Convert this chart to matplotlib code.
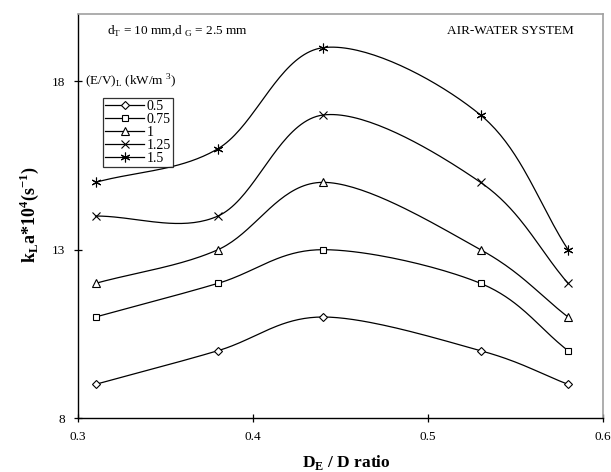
import numpy as np
import matplotlib
matplotlib.use('Agg')
import matplotlib.pyplot as plt
from matplotlib.lines import Line2D

plt.rcParams['font.family'] = 'Liberation Serif'
plt.rcParams['mathtext.fontset'] = 'custom'
plt.rcParams['mathtext.rm'] = 'Liberation Serif'
plt.rcParams['mathtext.bf'] = 'Liberation Serif:bold'

# data
de_d_ratio = [0.31, 0.38, 0.44, 0.53, 0.58]
power_labels = ['0.5', '0.75', '1', '1.25', '1.5']
kla_05 = [9, 10, 11, 10, 9]
kla_075 = [11, 12, 13, 12, 10]
kla_1 = [12, 13, 15, 13, 11]
kla_125 = [14, 14, 17, 15, 12]
kla_15 = [15, 16, 19, 17, 13]
markers = ['D', 's', '^', 'x', (6, 2, 0)]
marker_sizes = [4, 5, 5.5, 6, 7]


def smoothCurve(X, Y, N_Seg=40):
    # Catmull-Rom style smoothing like Excel's "smoothed line"
    x = np.asarray(X, float)
    y = np.asarray(Y, float)
    px = np.concatenate([[2 * x[0] - x[1]], x, [2 * x[-1] - x[-2]]])
    py = np.concatenate([[2 * y[0] - y[1]], y, [2 * y[-1] - y[-2]]])
    xs, ys = [], []
    t = np.linspace(0, 1, N_Seg)
    for i in range(1, len(px) - 2):
        for p, out in ((px, xs), (py, ys)):
            p0, p1, p2, p3 = p[i - 1], p[i], p[i + 1], p[i + 2]
            m1 = (p2 - p0) / 2.0
            m2 = (p3 - p1) / 2.0
            h00 = 2 * t**3 - 3 * t**2 + 1
            h10 = t**3 - 2 * t**2 + t
            h01 = -2 * t**3 + 3 * t**2
            h11 = t**3 - t**2
            out.extend(h00 * p1 + h10 * m1 + h01 * p2 + h11 * m2)
    return np.array(xs), np.array(ys)


fig = plt.figure(figsize=(6.11, 4.72), dpi=100)
ax = fig.add_axes([0.1277, 0.1144, 0.8593, 0.8559])

all_series = [kla_05, kla_075, kla_1, kla_125, kla_15]
handles = []
for series, mk, ms, lab in zip(all_series, markers, marker_sizes, power_labels):
    sx, sy = smoothCurve(de_d_ratio, series)
    ax.plot(sx, sy, color='black', lw=0.9)
    ax.plot(de_d_ratio, series, linestyle='none', marker=mk, ms=ms,
            mfc='white', mec='black', mew=0.8)
    handles.append(Line2D([], [], color='black', lw=0.9, marker=mk, ms=ms,
                          mfc='white', mec='black', mew=0.8, label=lab))

ax.set_xlim(0.3, 0.6)
ax.set_ylim(8, 20)
ax.set_xticks([0.3, 0.4, 0.5, 0.6])
ax.set_xticklabels(['0.3', '0.4', '0.5', '0.6'])
ax.set_yticks([8, 13, 18])
ax.tick_params(direction='inout', length=6, width=0.9, labelsize=9.5, pad=6)
for side in ['top', 'right']:
    ax.spines[side].set_color('#a0a0a0')
    ax.spines[side].set_linewidth(1.2)
for side in ['left', 'bottom']:
    ax.spines[side].set_color('black')
    ax.spines[side].set_linewidth(1.0)

# axis titles placed on the figure
fig.text(346 / 611, 1 - 463 / 472, r'D$_\mathbf{E}$ / D ratio', fontsize=12.5,
         fontweight='bold', ha='center', va='center')
fig.text(29 / 611, 1 - 215 / 472,
         r'k$_\mathbf{L}$a*10$^\mathbf{4}$(s$^\mathbf{-1}$)', fontsize=13,
         fontweight='bold', ha='center', va='center', rotation=90)

ax.text(0.055, 0.958, r'd$_\mathrm{T}$ = 10 mm,d $_\mathrm{G}$ = 2.5 mm',
        transform=ax.transAxes, fontsize=9.5, ha='left', va='center')
ax.text(0.945, 0.958, 'AIR-WATER SYSTEM', transform=ax.transAxes,
        fontsize=9.5, ha='right', va='center')
ax.text(0.013, 0.834, r'(E/V)$_\mathrm{L}$ (kW/m $^\mathrm{3}$)',
        transform=ax.transAxes, fontsize=9.5, ha='left', va='center')

leg = ax.legend(handles=handles, loc='upper left', bbox_to_anchor=(0.048, 0.792),
                fontsize=10, frameon=True, fancybox=False, handlelength=2.8,
                handletextpad=0.2, labelspacing=0.0, borderpad=0.15,
                borderaxespad=0)
leg.get_frame().set_edgecolor('black')
leg.get_frame().set_linewidth(0.9)

fig.savefig('out.png', dpi=100)
